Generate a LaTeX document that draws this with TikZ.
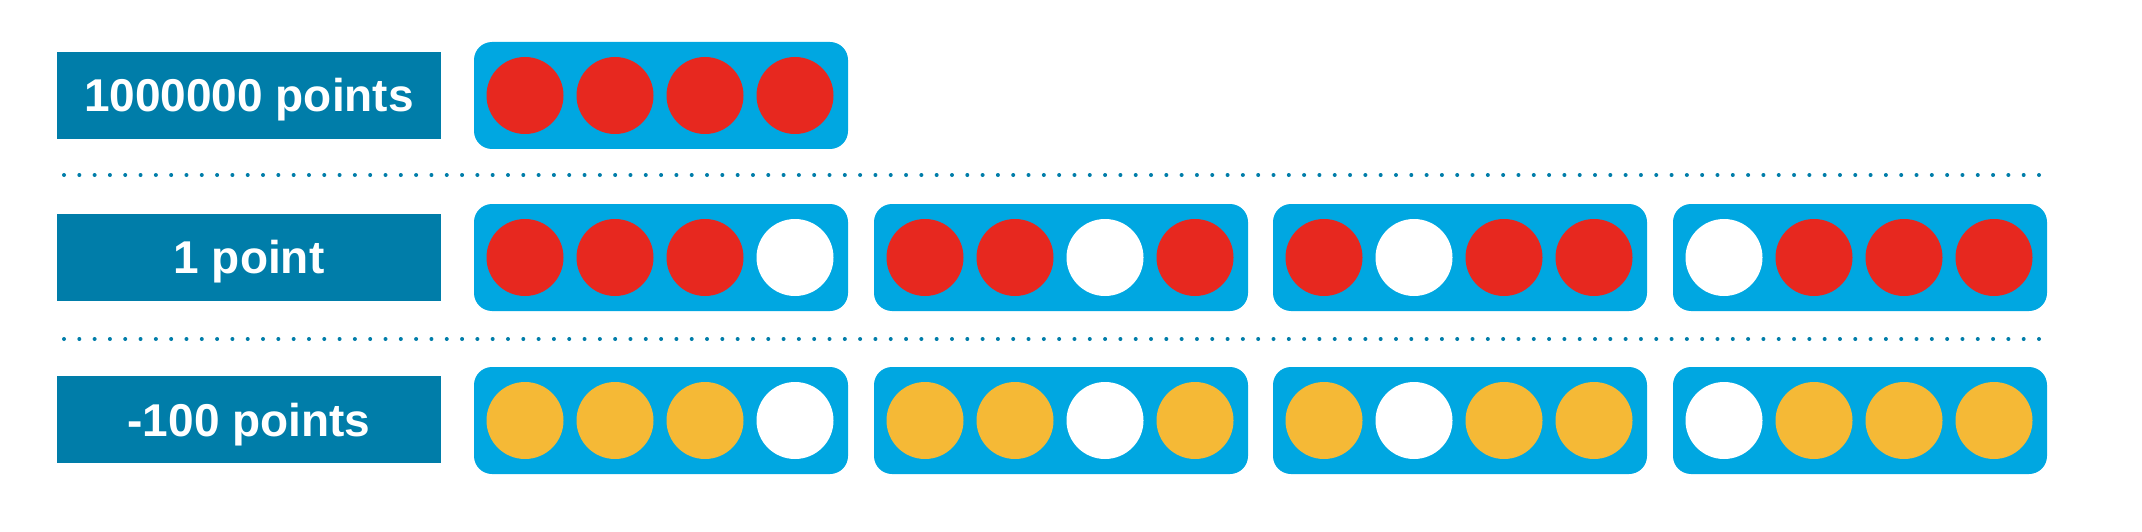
\documentclass[tikz,border=0pt]{standalone}
\usepackage{fontspec}
\setmainfont{Liberation Sans}
\definecolor{labelteal}{HTML}{007DA9}
\definecolor{boxcyan}{HTML}{00A7E1}
\definecolor{ballred}{HTML}{E7281F}
\definecolor{ballyellow}{HTML}{F5B936}
\begin{document}
\begin{tikzpicture}[
			x=1pt,
			y=-1pt,
			line cap=round,
			line join=round,
			scorelabel/.style={fill=labelteal,text=white,inner sep=0pt,
				minimum width=384pt,minimum height=87pt,
				text height=33pt,text depth=0pt,
				font=\fontsize{46}{50}\selectfont\bfseries},
			dotline/.style={labelteal,line width=4pt,line cap=round,
				dash pattern=on 0pt off 15.31pt}
			]
			
			\def\BoxWidth{374}
			\def\BoxHeight{107}
			\def\BallStep{90}
			\def\BallRadius{38.5}
			
			\newcommand{\BallBox}[4]{%
				\fill[boxcyan,rounded corners=18pt] (0,0) rectangle (\BoxWidth,\BoxHeight);
				\foreach \col [count=\i from 0] in {#1,#2,#3,#4}
					\fill[\col] (51+\i*\BallStep,53.5) circle[radius=\BallRadius];
			}
			
			\useasboundingbox (0,0) rectangle (2142,532);
			
			% Labels
			\node[scorelabel] (million) at (249,95.5) {1000000 points};
			\node[scorelabel] (one) at (249,257) {1 point};
			\node[scorelabel] (minus) at (249,419.5) {-100 points};
			
			% Separators
			\draw[dotline] (64,175) -- (2040,175);
			\draw[dotline] (64,339) -- (2040,339);
			
			% Row 1
			\begin{scope}[shift={(474,42)}]
				\BallBox{ballred}{ballred}{ballred}{ballred}
			\end{scope}
			
			% Row 2
			\begin{scope}[shift={(474,204)}]
				\BallBox{ballred}{ballred}{ballred}{white}
			\end{scope}
			\begin{scope}[shift={(874,204)}]
				\BallBox{ballred}{ballred}{white}{ballred}
			\end{scope}
			\begin{scope}[shift={(1273,204)}]
				\BallBox{ballred}{white}{ballred}{ballred}
			\end{scope}
			\begin{scope}[shift={(1673,204)}]
				\BallBox{white}{ballred}{ballred}{ballred}
			\end{scope}
			
			% Row 3
			\begin{scope}[shift={(474,367)}]
				\BallBox{ballyellow}{ballyellow}{ballyellow}{white}
			\end{scope}
			\begin{scope}[shift={(874,367)}]
				\BallBox{ballyellow}{ballyellow}{white}{ballyellow}
			\end{scope}
			\begin{scope}[shift={(1273,367)}]
				\BallBox{ballyellow}{white}{ballyellow}{ballyellow}
			\end{scope}
			\begin{scope}[shift={(1673,367)}]
				\BallBox{white}{ballyellow}{ballyellow}{ballyellow}
			\end{scope}
			
		\end{tikzpicture}
\end{document}
